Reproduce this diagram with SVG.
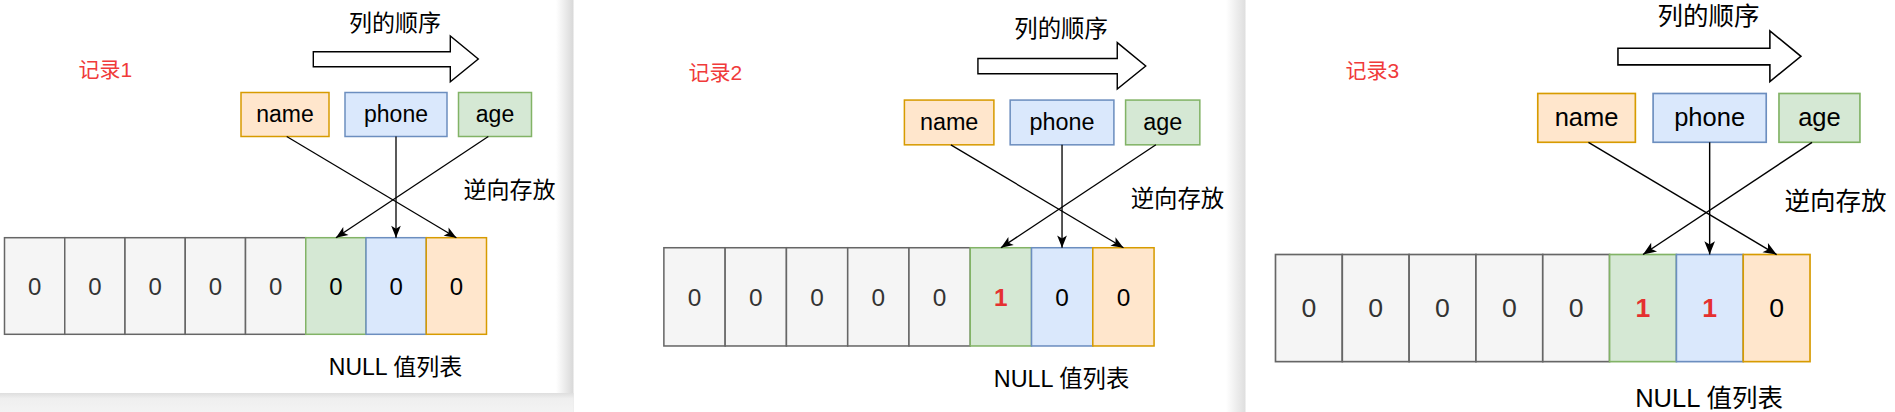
<svg xmlns="http://www.w3.org/2000/svg" width="1895" height="412" viewBox="0 0 1895 412">
<style>
.t{font-family:"Liberation Sans","Noto Sans CJK SC",sans-serif;}
.lbl{font-size:23px;text-anchor:middle;fill:#000;}
.cap{font-size:23px;fill:#000;}
.d{font-size:24px;text-anchor:middle;fill:#333;}
.dk{fill:#000;}
.r{fill:#e53030;font-weight:bold;}
.rec{fill:#f03a3a;}
.gray{fill:#f5f5f5;stroke:#666;stroke-width:1.5;}
.green{fill:#d5e8d4;stroke:#82b366;stroke-width:1.5;}
.blue{fill:#dae8fc;stroke:#6c8ebf;stroke-width:1.5;}
.orange{fill:#ffe6cc;stroke:#d79b00;stroke-width:1.5;}
.big{fill:#fff;stroke:#000;stroke-width:1.4;}
.edge{fill:none;stroke:#000;stroke-width:1.3;marker-end:url(#arr);}
</style>
<defs>
<marker id="arr" viewBox="-13 -6 14 12" refX="0" refY="0" markerWidth="14" markerHeight="12" orient="auto" markerUnits="userSpaceOnUse">
<path d="M0,0 L-12,-4.8 L-9,0 L-12,4.8 Z" fill="#000"/>
</marker>
<linearGradient id="gbot" x1="0" y1="0" x2="0" y2="1">
<stop offset="0" stop-color="#dedede"/>
<stop offset="0.3" stop-color="#efefef"/>
<stop offset="1" stop-color="#f3f3f3"/>
</linearGradient>
<linearGradient id="gside1" x1="0" y1="0" x2="1" y2="0">
<stop offset="0" stop-color="#ffffff"/>
<stop offset="1" stop-color="#d8d8d8"/>
</linearGradient>
<linearGradient id="gside2" x1="0" y1="0" x2="1" y2="0">
<stop offset="0" stop-color="#ffffff"/>
<stop offset="1" stop-color="#dedede"/>
</linearGradient>
</defs>
<rect x="0" y="0" width="1895" height="412" fill="#ffffff"/>
<g id="backdrop">
<rect x="556" y="0" width="17.5" height="412" fill="url(#gside1)"/>
<rect x="0" y="393" width="573.5" height="19" fill="url(#gbot)"/>
<rect x="1226" y="0" width="19.5" height="412" fill="url(#gside2)"/>
</g>

<g id="panel1">
<g id="p1-order-arrow"><polygon class="big" points="313.3,51.7 450.3,51.7 450.3,36 478.3,59 450.3,81.7 450.3,66.7 313.3,66.7"/></g>
<text id="p1-order-label" class="t lbl" x="395" y="30.5">列的顺序</text>
<g id="p1-name"><rect class="orange" x="241" y="92.5" width="88" height="44"/><text class="t lbl" x="285" y="122">name</text></g>
<g id="p1-phone"><rect class="blue" x="345" y="92.5" width="102" height="44"/><text class="t lbl" x="396" y="122">phone</text></g>
<g id="p1-age"><rect class="green" x="458.5" y="92.5" width="73" height="44"/><text class="t lbl" x="495" y="122">age</text></g>
<text id="p1-reverse" class="t cap" x="463.5" y="198">逆向存放</text>
<g id="p1-nullbits">
<g id="p1-c0"><rect class="gray" x="4.5" y="237.7" width="60.25" height="96.6"/><text class="t d" x="34.6" y="294.5">0</text></g>
<g id="p1-c1"><rect class="gray" x="64.75" y="237.7" width="60.25" height="96.6"/><text class="t d" x="94.9" y="294.5">0</text></g>
<g id="p1-c2"><rect class="gray" x="125" y="237.7" width="60.25" height="96.6"/><text class="t d" x="155.1" y="294.5">0</text></g>
<g id="p1-c3"><rect class="gray" x="185.25" y="237.7" width="60.25" height="96.6"/><text class="t d" x="215.4" y="294.5">0</text></g>
<g id="p1-c4"><rect class="gray" x="245.5" y="237.7" width="60.25" height="96.6"/><text class="t d" x="275.6" y="294.5">0</text></g>
<g id="p1-c5"><rect class="green" x="305.75" y="237.7" width="60.25" height="96.6"/><text class="t d dk" x="335.9" y="294.5">0</text></g>
<g id="p1-c6"><rect class="blue" x="366" y="237.7" width="60.25" height="96.6"/><text class="t d dk" x="396.1" y="294.5">0</text></g>
<g id="p1-c7"><rect class="orange" x="426.25" y="237.7" width="60.25" height="96.6"/><text class="t d dk" x="456.4" y="294.5">0</text></g>
</g>
<text id="p1-null-label" class="t lbl" x="395.5" y="375">NULL 值列表</text>
<g id="p1-connectors">
<path class="edge" d="M286.7,136.5 L456.4,237.7"/>
<path class="edge" d="M396,136.5 L396,237.7"/>
<path class="edge" d="M488.3,136.5 L335.9,237.7"/>
</g>
</g>

<g id="panel2" transform="translate(659.3,6) scale(1.017)">
<g id="p2-order-arrow"><polygon class="big" points="313.3,51.7 450.3,51.7 450.3,36 478.3,59 450.3,81.7 450.3,66.7 313.3,66.7"/></g>
<text id="p2-order-label" class="t lbl" x="395" y="30.5">列的顺序</text>
<g id="p2-name"><rect class="orange" x="241" y="92.5" width="88" height="44"/><text class="t lbl" x="285" y="122">name</text></g>
<g id="p2-phone"><rect class="blue" x="345" y="92.5" width="102" height="44"/><text class="t lbl" x="396" y="122">phone</text></g>
<g id="p2-age"><rect class="green" x="458.5" y="92.5" width="73" height="44"/><text class="t lbl" x="495" y="122">age</text></g>
<text id="p2-reverse" class="t cap" x="463.5" y="198">逆向存放</text>
<g id="p2-nullbits">
<g id="p2-c0"><rect class="gray" x="4.5" y="237.7" width="60.25" height="96.6"/><text class="t d" x="34.6" y="294.5">0</text></g>
<g id="p2-c1"><rect class="gray" x="64.75" y="237.7" width="60.25" height="96.6"/><text class="t d" x="94.9" y="294.5">0</text></g>
<g id="p2-c2"><rect class="gray" x="125" y="237.7" width="60.25" height="96.6"/><text class="t d" x="155.1" y="294.5">0</text></g>
<g id="p2-c3"><rect class="gray" x="185.25" y="237.7" width="60.25" height="96.6"/><text class="t d" x="215.4" y="294.5">0</text></g>
<g id="p2-c4"><rect class="gray" x="245.5" y="237.7" width="60.25" height="96.6"/><text class="t d" x="275.6" y="294.5">0</text></g>
<g id="p2-c5"><rect class="green" x="305.75" y="237.7" width="60.25" height="96.6"/><text class="t d r" x="335.9" y="294.5">1</text></g>
<g id="p2-c6"><rect class="blue" x="366" y="237.7" width="60.25" height="96.6"/><text class="t d dk" x="396.1" y="294.5">0</text></g>
<g id="p2-c7"><rect class="orange" x="426.25" y="237.7" width="60.25" height="96.6"/><text class="t d dk" x="456.4" y="294.5">0</text></g>
</g>
<text id="p2-null-label" class="t lbl" x="395.5" y="375">NULL 值列表</text>
<g id="p2-connectors">
<path class="edge" d="M286.7,136.5 L456.4,237.7"/>
<path class="edge" d="M396,136.5 L396,237.7"/>
<path class="edge" d="M488.3,136.5 L335.9,237.7"/>
</g>
</g>

<g id="panel3" transform="translate(1270.5,-9.1) scale(1.109)">
<g id="p3-order-arrow"><polygon class="big" points="313.3,51.7 450.3,51.7 450.3,36 478.3,59 450.3,81.7 450.3,66.7 313.3,66.7"/></g>
<text id="p3-order-label" class="t lbl" x="395" y="30.5">列的顺序</text>
<g id="p3-name"><rect class="orange" x="241" y="92.5" width="88" height="44"/><text class="t lbl" x="285" y="122">name</text></g>
<g id="p3-phone"><rect class="blue" x="345" y="92.5" width="102" height="44"/><text class="t lbl" x="396" y="122">phone</text></g>
<g id="p3-age"><rect class="green" x="458.5" y="92.5" width="73" height="44"/><text class="t lbl" x="495" y="122">age</text></g>
<text id="p3-reverse" class="t cap" x="463.5" y="198">逆向存放</text>
<g id="p3-nullbits">
<g id="p3-c0"><rect class="gray" x="4.5" y="237.7" width="60.25" height="96.6"/><text class="t d" x="34.6" y="294.5">0</text></g>
<g id="p3-c1"><rect class="gray" x="64.75" y="237.7" width="60.25" height="96.6"/><text class="t d" x="94.9" y="294.5">0</text></g>
<g id="p3-c2"><rect class="gray" x="125" y="237.7" width="60.25" height="96.6"/><text class="t d" x="155.1" y="294.5">0</text></g>
<g id="p3-c3"><rect class="gray" x="185.25" y="237.7" width="60.25" height="96.6"/><text class="t d" x="215.4" y="294.5">0</text></g>
<g id="p3-c4"><rect class="gray" x="245.5" y="237.7" width="60.25" height="96.6"/><text class="t d" x="275.6" y="294.5">0</text></g>
<g id="p3-c5"><rect class="green" x="305.75" y="237.7" width="60.25" height="96.6"/><text class="t d r" x="335.9" y="294.5">1</text></g>
<g id="p3-c6"><rect class="blue" x="366" y="237.7" width="60.25" height="96.6"/><text class="t d r" x="396.1" y="294.5">1</text></g>
<g id="p3-c7"><rect class="orange" x="426.25" y="237.7" width="60.25" height="96.6"/><text class="t d dk" x="456.4" y="294.5">0</text></g>
</g>
<text id="p3-null-label" class="t lbl" x="395.5" y="375">NULL 值列表</text>
<g id="p3-connectors">
<path class="edge" d="M286.7,136.5 L456.4,237.7"/>
<path class="edge" d="M396,136.5 L396,237.7"/>
<path class="edge" d="M488.3,136.5 L335.9,237.7"/>
</g>
</g>

<text id="record1" class="t rec" x="78.5" y="77" font-size="21">记录1</text>
<text id="record2" class="t rec" x="688.5" y="80" font-size="21">记录2</text>
<text id="record3" class="t rec" x="1345.5" y="77.5" font-size="21">记录3</text>
</svg>
